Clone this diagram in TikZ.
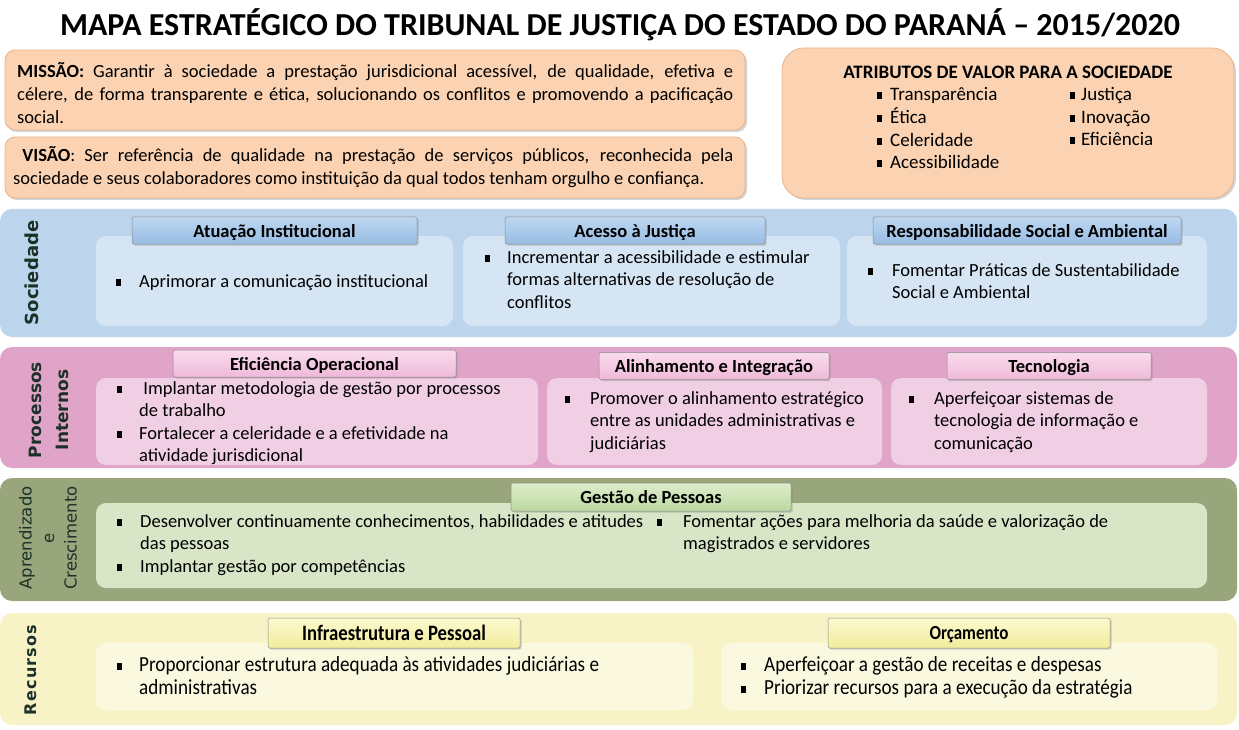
\documentclass[tikz,border=0pt]{standalone}
\usepackage{fontspec}
\setmainfont{Carlito}
\newfontfamily\sidefont{DejaVu Sans}
\newfontfamily\sidespaced{DejaVu Sans}[LetterSpace=8]
\newfontfamily\narrowfont{Carlito}[FakeStretch=0.85]
\newfontfamily\recbody{Carlito}[FakeStretch=0.89]
\usetikzlibrary{positioning, shadows}

\definecolor{peach}{HTML}{FBD3B3}
\definecolor{peachline}{HTML}{E9B48C}
\definecolor{sideText}{HTML}{1C3129}
\definecolor{socBand}{HTML}{BCD5EC}
\definecolor{socBox}{HTML}{D5E5F4}
\definecolor{socTabA}{HTML}{BDD7F0}
\definecolor{socTabB}{HTML}{98BCE4}
\definecolor{proBand}{HTML}{E0A4C8}
\definecolor{proBox}{HTML}{F0CEE3}
\definecolor{proTabA}{HTML}{F9DCEC}
\definecolor{proTabB}{HTML}{EFB9D9}
\definecolor{aprBand}{HTML}{99A67B}
\definecolor{aprBox}{HTML}{D8E5C7}
\definecolor{aprTabA}{HTML}{DDEDCB}
\definecolor{aprTabB}{HTML}{BCD89F}
\definecolor{recBand}{HTML}{F8F3C6}
\definecolor{recBox}{HTML}{FBF8E0}
\definecolor{recTabA}{HTML}{FCFAD0}
\definecolor{recTabB}{HTML}{F2EC9C}

\newcommand\sq{\rule[1.5pt]{5pt}{7pt}}
% bullet list: first column holds the bullet, second the text
\newcommand\blist[2][23pt]{\begin{tabular}[t]{@{}p{#1}@{}l@{}}#2\end{tabular}}

\begin{document}
\begin{tikzpicture}[
    x=1pt, y=-1pt,
    font=\fontsize{18.5}{22.5}\selectfont,
    band/.style={rounded corners=12pt},
    panel/.style={rounded corners=10pt},
    txt/.style={anchor=base west, inner sep=0pt},
    para/.style={txt, text width=#1, align=justify, font=\fontsize{18.5}{23}\selectfont},
    tab/.style={draw=black!45, line width=0.5pt, rounded corners=1.5pt, inner sep=0pt,
        minimum height=27pt, text height=15pt, text depth=2pt,
        font=\bfseries\fontsize{18.5}{20}\selectfont,
        drop shadow={shadow xshift=1.5pt, shadow yshift=-1.5pt, opacity=0.35}},
    side/.style={rotate=90, align=center, inner sep=0pt, text=sideText},
    topbox/.style={panel, fill=peach, draw=peachline, line width=0.8pt,
        drop shadow={shadow xshift=2pt, shadow yshift=-2pt, opacity=0.35}},
    recfont/.style={font=\recbody\fontsize{21.5}{23}\selectfont}
]
   \useasboundingbox (0,0) rectangle (1239,730);

   % Title
   \node[font=\bfseries\fontsize{32}{34}\selectfont] (title) at (620,25)
      {MAPA ESTRATÉGICO DO TRIBUNAL DE JUSTIÇA DO ESTADO DO PARANÁ – 2015/2020};

   % Missao, visao, atributos
   \fill[topbox] (5,50) rectangle (745,130);
   \fill[topbox] (5,137) rectangle (745,198);
   \fill[topbox, rounded corners=22pt] (782,48) rectangle (1234,198);
   \node[para=716pt] (missao) at (17,78)
      {\textbf{MISSÃO:} Garantir à sociedade a prestação jurisdicional acessível, de qualidade, efetiva e\linebreak
       célere, de forma transparente e ética, solucionando os conflitos e promovendo a pacificação\linebreak social.};
   \node[para=720pt] (visao) at (13,162)
      {\ \textbf{VISÃO}: Ser referência de qualidade na prestação de serviços públicos, reconhecida pela\linebreak
       sociedade e seus colaboradores como instituição da qual todos tenham orgulho e confiança.};
   \node[font=\bfseries\fontsize{19}{20}\selectfont] (atrib) at (1008,72) {ATRIBUTOS DE VALOR PARA A SOCIEDADE};
   \node[txt, font=\fontsize{19}{22.5}\selectfont] (atribA) at (877,101)
      {\blist[13pt]{\sq & Transparência\\ \sq & Ética\\ \sq & Celeridade\\ \sq & Acessibilidade}};
   \node[txt, font=\fontsize{19}{22.5}\selectfont] (atribB) at (1070,101)
      {\blist[11pt]{\sq & Justiça\\ \sq & Inovação\\ \sq & Eficiência}};

   % Sociedade
   \fill[band, socBand] (0,209) rectangle (1237,337);
   \fill[panel, socBox] (96,236) rectangle (453,326);
   \fill[panel, socBox] (463,236) rectangle (840,326);
   \fill[panel, socBox] (847,236) rectangle (1207,326);
   \node[side, font=\sidefont\bfseries\fontsize{18}{20}\selectfont] (lSoc) at (32,273) {Sociedade};
   \node[tab, top color=socTabA, bottom color=socTabB, minimum width=285pt] (tAtu) at (274.5,230.5) {Atuação Institucional};
   \node[tab, top color=socTabA, bottom color=socTabB, minimum width=260pt] (tAce) at (635,230.5) {Acesso à Justiça};
   \node[tab, top color=socTabA, bottom color=socTabB, minimum width=308pt] (tRes) at (1027,230.5) {Responsabilidade Social e Ambiental};
   \node[txt] (xAtu) at (116,287) {\blist{\sq & Aprimorar a comunicação institucional}};
   \node[txt] (xAce) at (485,263)
      {\blist[22pt]{\sq & Incrementar a acessibilidade e estimular\\ & formas alternativas de resolução de\\ & conflitos}};
   \node[txt] (xRes) at (868,276)
      {\blist[24pt]{\sq & Fomentar Práticas de Sustentabilidade\\ & Social e Ambiental}};

   % Processos internos
   \fill[band, proBand] (0,347) rectangle (1237,468);
   \fill[panel, proBox] (96,378) rectangle (538,465);
   \fill[panel, proBox] (547,378) rectangle (882,465);
   \fill[panel, proBox] (891,378) rectangle (1207,465);
   \node[side, font=\sidefont\bfseries\fontsize{17}{27}\selectfont] (lPro) at (49,410) {Processos\\Internos};
   \node[tab, top color=proTabA, bottom color=proTabB, minimum width=283pt] (tEfi) at (314.5,363.5) {Eficiência Operacional};
   \node[tab, top color=proTabA, bottom color=proTabB, minimum width=230pt] (tAli) at (714,366) {Alinhamento e Integração};
   \node[tab, top color=proTabA, bottom color=proTabB, minimum width=204pt] (tTec) at (1049,366) {Tecnologia};
   \node[txt] (xEfi) at (117,394)
      {\blist[22pt]{\sq & \ Implantar metodologia de gestão por processos\\ & de trabalho\\
       \sq & Fortalecer a celeridade e a efetividade na\\ & atividade jurisdicional}};
   \node[txt] (xAli) at (565,404)
      {\blist[25pt]{\sq & Promover o alinhamento estratégico\\ & entre as unidades administrativas e\\ & judiciárias}};
   \node[txt] (xTec) at (909,404)
      {\blist[25pt]{\sq & Aperfeiçoar sistemas de\\ & tecnologia de informação e\\ & comunicação}};

   % Aprendizado e crescimento
   \fill[band, aprBand] (0,478) rectangle (1237,601);
   \fill[panel, aprBox] (96,503) rectangle (1207,588);
   \node[side, font=\sidefont\fontsize{16.5}{22.5}\selectfont] (lApr) at (48,538) {Aprendizado\\e\\Crescimento};
   \node[tab, top color=aprTabA, bottom color=aprTabB, minimum width=280pt, minimum height=28pt] (tGes) at (651,497) {Gestão de Pessoas};
   \node[txt] (xGesA) at (117,527)
      {\blist{\sq & Desenvolver continuamente conhecimentos, habilidades e atitudes\\ & das pessoas\\
       \sq & Implantar gestão por competências}};
   \node[txt] (xGesB) at (657,527)
      {\blist[26pt]{\sq & Fomentar ações para melhoria da saúde e valorização de\\ & magistrados e servidores}};

   % Recursos
   \fill[band, recBand] (0,613) rectangle (1237,725);
   \fill[panel, recBox] (96,643) rectangle (693,710);
   \fill[panel, recBox] (721,643) rectangle (1217,710);
   \node[side, font=\sidespaced\bfseries\fontsize{16}{20}\selectfont] (lRec) at (31,670) {Recursos};
   \node[tab, top color=recTabA, bottom color=recTabB, minimum width=252pt, minimum height=30pt,
      text height=17pt, text depth=3pt,
      font=\narrowfont\bfseries\fontsize{22}{22}\selectfont] (tInf) at (394,633) {Infraestrutura e Pessoal};
   \node[tab, top color=recTabA, bottom color=recTabB, minimum width=282pt, minimum height=30pt,
      text height=16pt, text depth=3pt,
      font=\narrowfont\bfseries\fontsize{20}{22}\selectfont] (tOrc) at (969,633) {Orçamento};
   \node[txt, recfont] (xInf) at (117,671)
      {\blist[22pt]{\sq & Proporcionar estrutura adequada às atividades judiciárias e\\ & administrativas}};
   \node[txt, recfont] (xOrc) at (741,671)
      {\blist{\sq & Aperfeiçoar a gestão de receitas e despesas\\ \sq & Priorizar recursos para a execução da estratégia}};

\end{tikzpicture}
\end{document}
